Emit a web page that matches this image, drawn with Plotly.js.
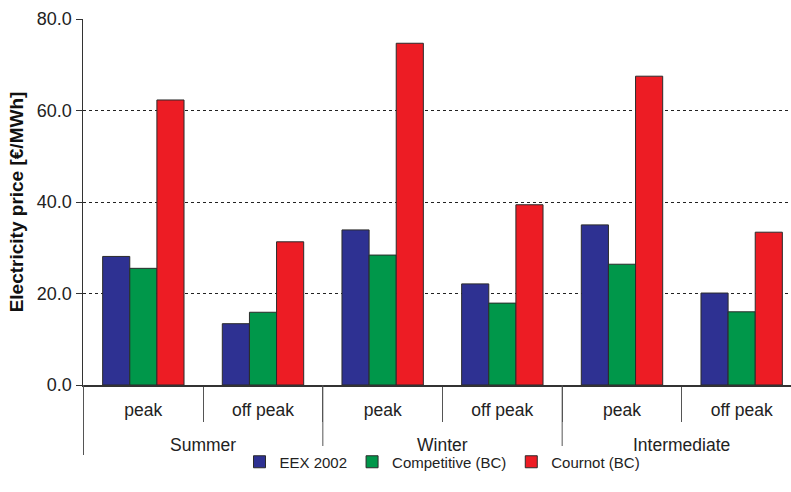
<!DOCTYPE html>
<html>
<head>
<meta charset="utf-8">
<script src="https://cdn.plot.ly/plotly-3.0.1.min.js"></script>
<style>
  html, body { margin: 0; padding: 0; overflow: hidden; background: #fff; }
  #chart { width: 802px; height: 492px; }
</style>
</head>
<body>
<div id="chart"></div>
<script>
// values, in EUR/MWh
var seasons = ['Summer', 'Winter', 'Intermediate'];
var periods = ['peak', 'off peak'];
var eex2002 = [28.1, 13.4, 33.9, 22.1, 35.0, 20.1];
var competitive = [25.5, 15.9, 28.4, 17.9, 26.4, 16.0];
var cournot = [62.3, 31.3, 74.7, 39.4, 67.5, 33.4];

var yTicks = [0, 20, 40, 60, 80];

// one unique key per bar group, the shown label is the period
var keys = [];
var labels = [];
seasons.forEach(function (s) {
    periods.forEach(function (p) {
        keys.push(s + ' ' + p);
        labels.push(p);
    });
});

function barTrace(name, values, color) {
    return {
        type: 'bar',
        name: name,
        x: keys,
        y: values,
        marker: { color: color, line: { color: '#2b2b2b', width: 1 } },
        hoverinfo: 'name+y'
    };
}

var data = [
    barTrace('EEX 2002', eex2002, '#2E3192'),
    barTrace('Competitive (BC)', competitive, '#00974A'),
    barTrace('Cournot (BC)', cournot, '#ED1C24')
];

// season labels under the period labels, and the long dividers between seasons
var annotations = [];
var shapes = [];
seasons.forEach(function (s, i) {
    var mid = i * periods.length + (periods.length - 1) / 2;
    annotations.push({
        x: mid, y: 0, xref: 'x', yref: 'paper',
        yanchor: 'middle', yshift: -60,
        text: s, showarrow: false,
        font: { size: 17.5, color: '#222' }
    });
});
for (var i = 0; i <= seasons.length; i++) {
    var bx = i * periods.length - 0.5;
    shapes.push({
        type: 'line', xref: 'x', yref: 'paper',
        x0: bx, x1: bx, y0: 0, y1: -70 / 366,
        line: { color: '#555', width: 1 }
    });
}

var layout = {
    width: 802,
    height: 492,
    margin: { l: 83, r: 0, t: 19, b: 107 },
    paper_bgcolor: '#fff',
    plot_bgcolor: '#fff',
    font: { family: 'Liberation Sans, Arial, sans-serif', size: 17.5, color: '#222' },
    barmode: 'group',
    bargap: 0.32,
    bargroupgap: 0,
    showlegend: true,
    legend: {
        orientation: 'h',
        x: 0.5, xanchor: 'center',
        y: -77 / 366, yanchor: 'middle',
        font: { size: 15, color: '#222' },
        itemwidth: 30
    },
    xaxis: {
        type: 'category',
        tickvals: keys,
        ticktext: labels,
        tickson: 'boundaries',
        ticks: 'outside',
        ticklen: 35,
        tickcolor: '#555',
        ticklabelstandoff: 8,
        showline: true,
        linecolor: '#333',
        linewidth: 1.5,
        showgrid: false,
        zeroline: false,
        tickangle: 0,
        tickfont: { size: 17.5 }
    },
    yaxis: {
        range: [0, 80],
        tickvals: yTicks,
        tickformat: '.1f',
        ticks: 'outside',
        ticklen: 6,
        tickcolor: '#333',
        tickfont: { size: 18 },
        showline: true,
        linecolor: '#333',
        linewidth: 1.5,
        showgrid: true,
        gridcolor: '#222',
        griddash: 'dot',
        gridwidth: 1,
        zeroline: false,
        title: {
            text: 'Electricity price [€/MWh]',
            font: { size: 19, color: '#111', weight: 'bold' },
            standoff: 8
        }
    },
    annotations: annotations,
    shapes: shapes
};

Plotly.newPlot('chart', data, layout, { displayModeBar: false, staticPlot: true });
</script>
</body>
</html>
